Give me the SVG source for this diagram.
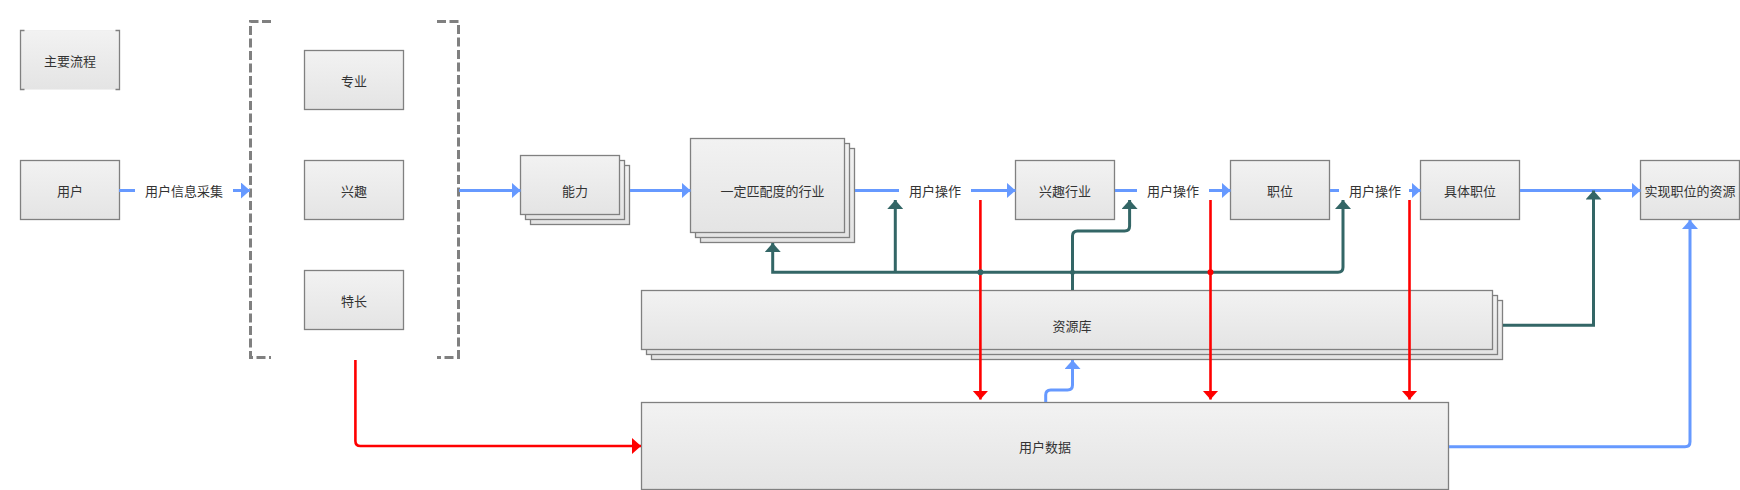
<svg xmlns="http://www.w3.org/2000/svg" width="1740" height="490" viewBox="0 0 1740 490">
<defs>
<linearGradient id="g" x1="0" y1="0" x2="0" y2="1">
<stop offset="0" stop-color="#F2F2F2"/>
<stop offset="1" stop-color="#E4E4E4"/>
</linearGradient>
<marker id="ab" markerUnits="userSpaceOnUse" viewBox="0 0 9 16" refX="9" refY="8" markerWidth="9" markerHeight="16" orient="auto"><path d="M0,0 L9,8 L0,16 Z" fill="#6699FF"/></marker>
<marker id="ag" markerUnits="userSpaceOnUse" viewBox="0 0 9 16" refX="9" refY="8" markerWidth="9" markerHeight="16" orient="auto"><path d="M0,0 L9,8 L0,16 Z" fill="#336666"/></marker>
<marker id="ar" markerUnits="userSpaceOnUse" viewBox="0 0 9 16" refX="9" refY="8" markerWidth="9" markerHeight="16" orient="auto"><path d="M0,0 L9,8 L0,16 Z" fill="#FF0000"/></marker>
</defs>
<style>
.box{fill:url(#g);stroke:#808080;stroke-width:1.3}
.t{font-family:"Noto Sans CJK SC","Noto Sans",sans-serif;font-size:13px;fill:#333333;text-anchor:middle;dominant-baseline:central}
.b{fill:none;stroke:#6699FF;stroke-width:3;marker-end:url(#ab)}
.gr{fill:none;stroke:#336666;stroke-width:3;marker-end:url(#ag)}
.r{fill:none;stroke:#FF0000;stroke-width:2.6;marker-end:url(#ar)}
.dash{fill:none;stroke:#808080;stroke-width:3;stroke-dasharray:9 3.5}
</style>

<g id="legend">
<rect x="20.5" y="30.5" width="99" height="59" fill="url(#g)" stroke="#F0F0F0" stroke-width="1"/>
<path d="M24.5,30.5 H20.5 V89.5 H24.5 M115.5,30.5 H119.5 V89.5 H115.5" fill="none" stroke="#808080" stroke-width="1.3"/>
<text class="t" x="70" y="60">主要流程</text>
</g>

<g id="user">
<rect class="box" x="20.5" y="160.5" width="99" height="59"/>
<text class="t" x="70" y="190">用户</text>
</g>

<g id="bracket">
<path class="dash" d="M271,21.5 H250.5 V357.5 H271"/>
<path class="dash" d="M437,21.5 H458.5 V357.5 H437"/>
</g>

<g id="major">
<rect class="box" x="304.5" y="50.5" width="99" height="59"/>
<text class="t" x="354" y="80">专业</text>
</g>
<g id="interest">
<rect class="box" x="304.5" y="160.5" width="99" height="59"/>
<text class="t" x="354" y="190">兴趣</text>
</g>
<g id="specialty">
<rect class="box" x="304.5" y="270.5" width="99" height="59"/>
<text class="t" x="354" y="300">特长</text>
</g>

<g id="ability">
<rect class="box" x="530.5" y="165.5" width="99" height="59"/>
<rect class="box" x="525.5" y="160.5" width="99" height="59"/>
<rect class="box" x="520.5" y="155.5" width="99" height="59"/>
<text class="t" x="575" y="190">能力</text>
</g>

<g id="industry">
<rect class="box" x="700.5" y="148.5" width="154" height="94"/>
<rect class="box" x="695.5" y="143.5" width="154" height="94"/>
<rect class="box" x="690.5" y="138.5" width="154" height="94"/>
<text class="t" x="772.5" y="190">一定匹配度的行业</text>
</g>

<g id="interest-industry">
<rect class="box" x="1015.5" y="160.5" width="99" height="59"/>
<text class="t" x="1065" y="190">兴趣行业</text>
</g>
<g id="position">
<rect class="box" x="1230.5" y="160.5" width="99" height="59"/>
<text class="t" x="1280" y="190">职位</text>
</g>
<g id="specific-position">
<rect class="box" x="1420.5" y="160.5" width="99" height="59"/>
<text class="t" x="1470" y="190">具体职位</text>
</g>
<g id="resources-for-position">
<rect class="box" x="1640.5" y="160.5" width="99" height="59"/>
<text class="t" x="1690" y="190">实现职位的资源</text>
</g>

<g id="resource-lib">
<rect class="box" x="651.5" y="300.5" width="851" height="59"/>
<rect class="box" x="646.5" y="295.5" width="851" height="59"/>
<rect class="box" x="641.5" y="290.5" width="851" height="59"/>
<text class="t" x="1072" y="325">资源库</text>
</g>

<g id="user-data">
<rect class="box" x="641.5" y="402.5" width="807" height="87"/>
<text class="t" x="1045" y="446">用户数据</text>
</g>

<g id="connectors">
<path class="b" d="M119,190.5 H135 M233,190.5 H250"/>
<text class="t" x="184" y="190">用户信息采集</text>
<path class="b" d="M459,190.5 H520.5"/>
<path class="b" d="M630,190.5 H690.5"/>
<path class="b" d="M855,190.5 H899 M971,190.5 H1015.5"/>
<text class="t" x="935" y="190">用户操作</text>
<path class="b" d="M1115,190.5 H1137 M1209,190.5 H1230.5"/>
<text class="t" x="1173" y="190">用户操作</text>
<path class="b" d="M1330,190.5 H1339 M1409,190.5 H1420.5"/>
<text class="t" x="1375" y="190">用户操作</text>
<path class="b" d="M1520,190.5 H1640.5"/>
<path class="b" d="M1449,446.7 H1685 Q1690,446.7 1690,441.7 V220"/>
<path class="b" d="M1045.7,402 V395 Q1045.7,390 1050.7,390 H1067.5 Q1072.5,390 1072.5,385 V360"/>

<path class="gr" d="M1072.5,290 V272.3 H772.7 V243"/>
<path class="gr" d="M895.3,272.3 V200"/>
<path class="gr" d="M1072.5,272.3 H1338 Q1343,272.3 1343,267.3 V200"/>
<path class="gr" d="M1072.5,272.3 V236 Q1072.5,231 1077.5,231 H1124.6 Q1129.6,231 1129.6,226 V200"/>
<path class="gr" d="M1503,325.3 H1593.5 V190.5"/>

<path class="r" d="M355.4,360 V441 Q355.4,446 360.4,446 H641"/>
<path class="r" d="M980.4,200 V399.5"/>
<path class="r" d="M1210.5,200 V399.5"/>
<path class="r" d="M1409.5,200 V399.5"/>

<circle cx="980.4" cy="272.3" r="3" fill="#336666"/>
<circle cx="1072.5" cy="272.3" r="2.5" fill="#336666"/>
<circle cx="1210.5" cy="272.3" r="3" fill="#FF0000"/>
</g>
</svg>
